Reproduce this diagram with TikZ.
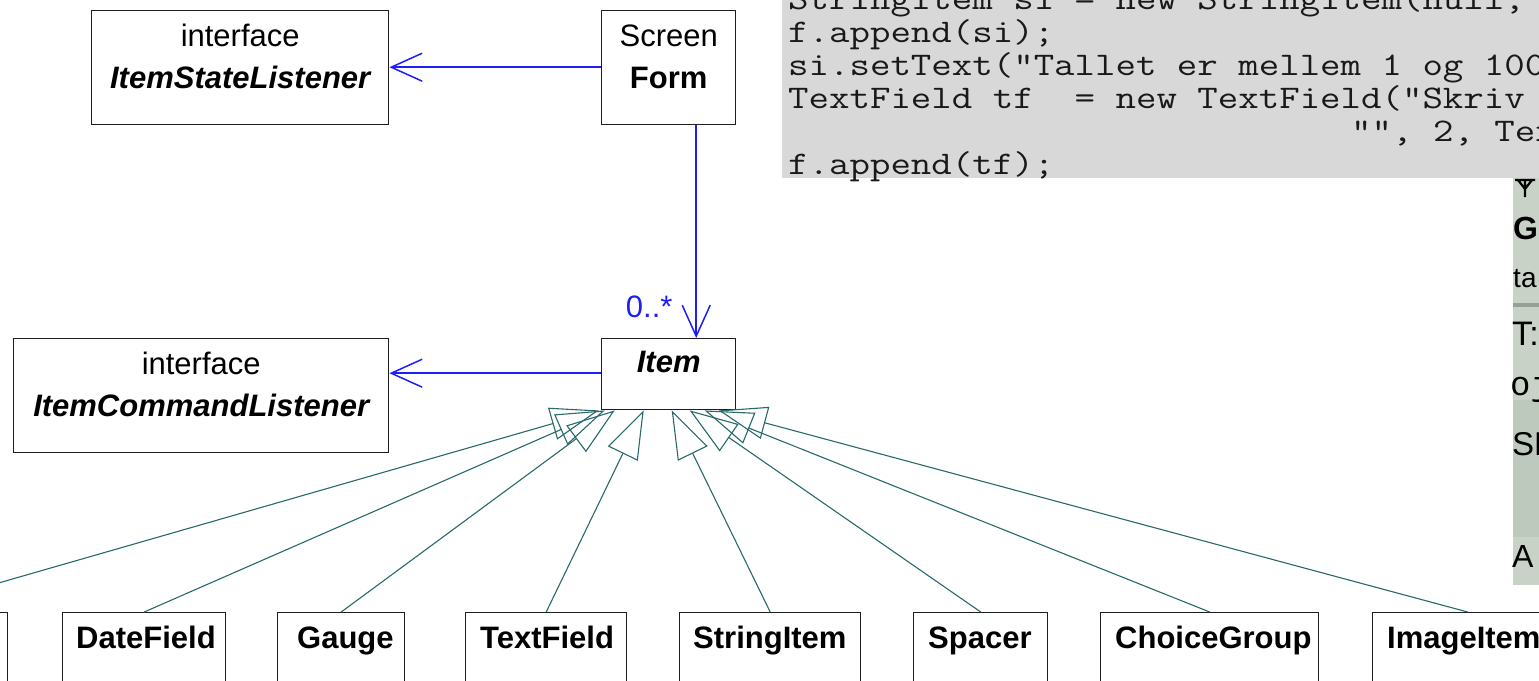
\documentclass[tikz,border=0pt]{standalone}
\usepackage{fontspec}
\setmainfont{Liberation Sans}
\newfontfamily\codefont[FakeStretch=1.204]{Latin Modern Mono}
\newfontfamily\pixmono{Liberation Mono}
\usetikzlibrary{arrows.meta}
\definecolor{assocblue}{RGB}{30,30,250}
\definecolor{genteal}{RGB}{40,105,105}
\definecolor{codegray}{RGB}{216,216,216}
\definecolor{phonebg}{RGB}{190,201,190}
\definecolor{phonenoise}{RGB}{201,210,199}
\definecolor{phoneline}{RGB}{150,160,150}
\definecolor{boxline}{RGB}{30,30,30}
\tikzset{
  cls/.style={draw=boxline, line width=1.4pt, fill=white, inner sep=0pt, anchor=north west},
  lbl/.style={inner sep=0pt, anchor=base, font=\fontsize{31}{37}\selectfont},
  sub/.style={cls, minimum height=110pt},
  subname/.style={inner sep=0pt, anchor=base west, font=\fontsize{31}{37}\selectfont\bfseries},
  assoc/.style={draw=assocblue, line width=1.5pt, -{Straight Barb[length=31pt,width=28pt]}},
  gen/.style={draw=genteal, line width=1.1pt, -{Triangle[open,length=48pt,width=33pt]}},
  codeline/.style={inner sep=0pt, anchor=base west, font=\codefont\fontsize{33}{40}\selectfont, text=black!90},
  phonetxt/.style={inner sep=0pt, anchor=base west, text=black},
}
\begin{document}
\begin{tikzpicture}[x=1pt,y=-1pt]
\useasboundingbox (0,0) rectangle (1539,680);
\clip (0,0) rectangle (1539,680);

% code listing
\fill[codegray] (782,-5) rectangle (1545,178);
\node[codeline] (c0) at (788,9.5) {StringItem si = new StringItem(null,};
\node[codeline] (c1) at (788,42.5) {f.append(si);};
\node[codeline] (c2) at (788,75.5) {si.setText("Tallet er mellem 1 og 100};
\node[codeline] (c3) at (788,108.5) {TextField tf~~= new TextField("Skriv};
\node[codeline] (c4) at (1351,141.5) {"", 2, Tex};
\node[codeline] (c5) at (788,174.5) {f.append(tf);};

% phone screen strip
\fill[phonebg] (1513,178) rectangle (1545,585);
\fill[phonenoise] (1513,178) rectangle (1545,400);
\fill[phonenoise] (1513,537) rectangle (1545,585);
\fill[phoneline] (1513,303) rectangle (1545,307);
\draw[black, line width=2.2pt] (1515,180) -- (1535,180)
  (1518,180) -- (1525,189) -- (1532,180) (1525,180) -- (1525,197);
\node[phonetxt, font=\fontsize{32}{36}\selectfont\bfseries] (p1) at (1513,239) {Ga};
\node[phonetxt, font=\fontsize{28}{32}\selectfont] (p2) at (1513,287) {ta};
\node[phonetxt, font=\fontsize{34}{38}\selectfont] (p3) at (1512,345) {T:};
\node[phonetxt, font=\pixmono\fontsize{34}{38}\selectfont] (p4) at (1510,395) {oj};
\node[phonetxt, font=\fontsize{33}{38}\selectfont] (p5) at (1512,455) {SH};
\node[phonetxt, font=\fontsize{32}{38}\selectfont] (p6) at (1512,567) {A};

% classes
\node[cls, minimum width=297pt, minimum height=114pt] (isl) at (91,10) {};
\node[lbl] (islA) at ([yshift=-36pt]isl.north) {interface};
\node[lbl, font=\fontsize{31}{37}\selectfont\bfseries\itshape] (islB) at ([yshift=-78pt]isl.north) {ItemStateListener};

\node[cls, minimum width=134pt, minimum height=114pt] (form) at (601,10) {};
\node[lbl] (formA) at ([yshift=-36pt]form.north) {Screen};
\node[lbl, font=\fontsize{31}{37}\selectfont\bfseries] (formB) at ([yshift=-78pt]form.north) {Form};

\node[cls, minimum width=375pt, minimum height=114pt] (icl) at (13,338) {};
\node[lbl] (iclA) at ([yshift=-36pt]icl.north) {interface};
\node[lbl, font=\fontsize{31}{37}\selectfont\bfseries\itshape] (iclB) at ([yshift=-78pt]icl.north) {ItemCommandListener};

\node[cls, minimum width=134pt, minimum height=71pt] (item) at (601,338) {};
\node[lbl, font=\fontsize{31}{37}\selectfont\bfseries\itshape] (itemA) at ([yshift=-34pt]item.north) {Item};

% subclasses
\node[sub, minimum width=220pt] (lft) at (-213,612) {};
\node[sub, minimum width=163pt] (date) at (62,612) {};
\node[subname] (dateA) at ([xshift=14pt,yshift=-36pt]date.north west) {DateField};
\node[sub, minimum width=127pt] (gauge) at (277,612) {};
\node[subname] (gaugeA) at ([xshift=20pt,yshift=-36pt]gauge.north west) {Gauge};
\node[sub, minimum width=161pt] (tf) at (465,612) {};
\node[subname] (tfA) at ([xshift=15pt,yshift=-36pt]tf.north west) {TextField};
\node[sub, minimum width=181pt] (si) at (679,612) {};
\node[subname] (siA) at ([xshift=14pt,yshift=-36pt]si.north west) {StringItem};
\node[sub, minimum width=134pt] (spacer) at (913,612) {};
\node[subname] (spacerA) at ([xshift=15pt,yshift=-36pt]spacer.north west) {Spacer};
\node[sub, minimum width=218pt] (cg) at (1100,612) {};
\node[subname] (cgA) at ([xshift=15pt,yshift=-36pt]cg.north west) {ChoiceGroup};
\node[sub, minimum width=190pt] (ii) at (1372,612) {};
\node[subname] (iiA) at ([xshift=15pt,yshift=-36pt]ii.north west) {ImageItem};

% associations
\draw[assoc] ([yshift=0.5pt]form.west) -- ([yshift=0.5pt]isl.east);
\draw[assoc] ([xshift=27.5pt]form.south) -- ([xshift=27.5pt]item.north);
\draw[assoc] ([yshift=1pt]item.west) -- ([yshift=1pt]item.west -| icl.east);
\node[lbl, anchor=base east, text=assocblue] (mult) at ([xshift=4pt,yshift=21pt]item.north) {0..*};

% generalizations
\draw[gen] (lft.north) -- ([xshift=-70pt]item.south);
\draw[gen] (date.north) -- ([xshift=-64pt]item.south);
\draw[gen] (gauge.north) -- ([xshift=-54pt]item.south);
\draw[gen] (tf.north) -- ([xshift=-25pt]item.south);
\draw[gen] (si.north) -- ([xshift=3pt]item.south);
\draw[gen] (spacer.north) -- ([xshift=21pt]item.south);
\draw[gen] (cg.north) -- ([xshift=36pt]item.south);
\draw[gen] (ii.north) -- ([xshift=50pt]item.south);
\end{tikzpicture}
\end{document}
